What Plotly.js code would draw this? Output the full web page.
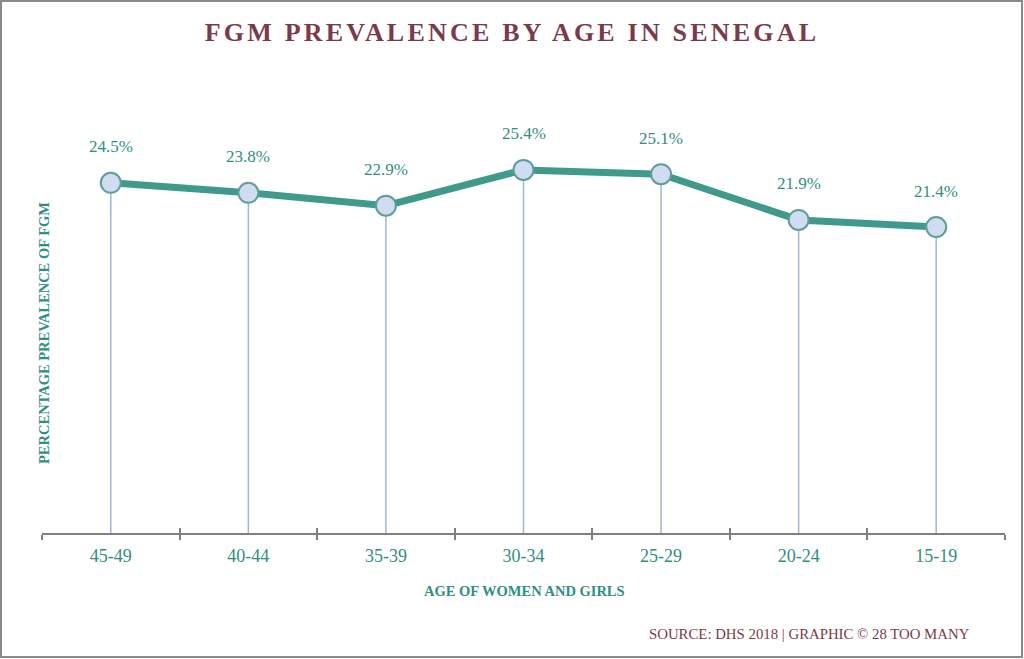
<!DOCTYPE html>
<html>
<head>
<meta charset="utf-8">
<script src="https://cdn.plot.ly/plotly-3.0.1.min.js"></script>
<style>
  html, body { margin: 0; padding: 0; background: #fff; }
  #wrap { position: relative; width: 1024px; height: 659px; }
  #chart { width: 1024px; height: 659px; }
  #frame { position: absolute; left: 0px; top: 0px; width: 1019px; height: 654px;
           border: 2px solid #8a8a8a; pointer-events: none; }
  .gtitle { letter-spacing: 3.2px; }
</style>
</head>
<body>
<div id="wrap">
  <div id="chart"></div>
  <div id="frame"></div>
</div>
<script>
// Data
const ageGroups = ["45-49", "40-44", "35-39", "30-34", "25-29", "20-24", "15-19"];
const prevalence = [24.5, 23.8, 22.9, 25.4, 25.1, 21.9, 21.4];
const boundaryTicks = [-0.5, 0.5, 1.5, 2.5, 3.5, 4.5, 5.5, 6.5];

const teal = "#2f8f82";
const lineTeal = "#3f9a8c";
const maroon = "#7b3a4b";
const serif = "Liberation Serif, Times New Roman, serif";

// plot area in pixels (for placing paper-referenced annotations)
const PL = 42, PR = 1005, PT = 107, PB = 533;
const px = (x) => (x - PL) / (PR - PL);
const py = (y) => (PB - y) / (PB - PT);

const traces = [
  {
    type: "scatter",
    mode: "lines+markers",
    x: ageGroups,
    y: prevalence,
    line: { color: lineTeal, width: 7 },
    marker: { size: 20, color: "#cfdcf1", line: { color: "#5f9e95", width: 2 } },
    error_y: {
      type: "data",
      symmetric: false,
      array: prevalence.map(() => 0),
      arrayminus: prevalence,
      width: 0,
      thickness: 1.5,
      color: "#9fb6d6"
    },
    hoverinfo: "x+y"
  },
  {
    // empty trace so the overlaying tick axis is drawn
    type: "scatter", mode: "none", x: [], y: [], xaxis: "x2", yaxis: "y",
    hoverinfo: "skip", showlegend: false
  }
];

const annotations = ageGroups.map((g, i) => ({
  x: g, y: prevalence[i], xref: "x", yref: "y",
  text: prevalence[i].toFixed(1) + "%",
  showarrow: false, yshift: 36,
  font: { family: serif, size: 17, color: teal }
}));

annotations.push({
  xref: "paper", yref: "paper", x: px(44), y: py(333), xanchor: "center", yanchor: "middle",
  text: "<b>PERCENTAGE PREVALENCE OF FGM</b>", textangle: -90, showarrow: false,
  font: { family: serif, size: 14.5, color: teal }
});
annotations.push({
  xref: "paper", yref: "paper", x: px(524), y: py(591),
  xanchor: "center", yanchor: "middle",
  text: "<b>AGE OF WOMEN AND GIRLS</b>", showarrow: false,
  font: { family: serif, size: 14.5, color: teal }
});
annotations.push({
  xref: "paper", yref: "paper", x: px(972), y: py(634),
  xanchor: "right", yanchor: "middle",
  text: "SOURCE: DHS 2018 | GRAPHIC © 28 TOO MANY", showarrow: false,
  font: { family: serif, size: 14.8, color: maroon }
});

const layout = {
  width: 1024, height: 659,
  margin: { l: PL, r: 1024 - PR, t: PT, b: 659 - PB },
  paper_bgcolor: "#ffffff", plot_bgcolor: "#ffffff",
  showlegend: false,
  title: {
    text: "<b>FGM PREVALENCE BY AGE IN SENEGAL</b>",
    x: 0.5, xref: "container", xanchor: "center",
    y: 1 - 32 / 659, yref: "container", yanchor: "middle",
    font: { family: serif, size: 26, color: maroon }
  },
  xaxis: {
    type: "category",
    range: [-0.5, 6.5],
    showline: true, linecolor: "#7f7f7f", linewidth: 2,
    ticks: "outside", tickson: "boundaries", ticklen: 5, tickwidth: 2, tickcolor: "#7f7f7f",
    ticklabelstandoff: 5,
    showgrid: false, zeroline: false,
    tickfont: { family: serif, size: 18, color: teal },
    fixedrange: true
  },
  xaxis2: {
    overlaying: "x", anchor: "y", side: "bottom",
    type: "linear", range: [-0.5, 6.5],
    tickmode: "array", tickvals: boundaryTicks,
    ticks: "inside", ticklen: 5, tickwidth: 2, tickcolor: "#7f7f7f",
    showticklabels: false, showgrid: false, zeroline: false, showline: false
  },
  yaxis: {
    range: [0, 29.8],
    showline: false, showgrid: false, zeroline: false,
    showticklabels: false, ticks: "",
    fixedrange: true
  },
  annotations: annotations
};

Plotly.newPlot("chart", traces, layout, { displayModeBar: false, staticPlot: true });
</script>
</body>
</html>
